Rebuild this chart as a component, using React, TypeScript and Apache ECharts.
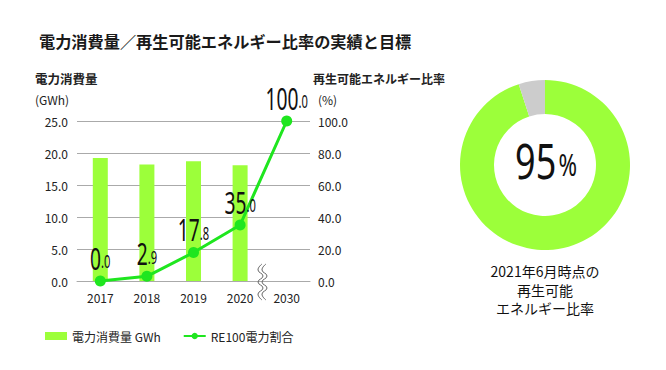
import React, { useEffect, useRef } from "react";
import * as echarts from "echarts";

const categories = ["2017", "2018", "2019", "2020", "2030"];
const consumption = [19.2, 18.2, 18.7, 18.1, null];
const re100 = [0.0, 2.9, 17.8, 35.0, 100.0];
const leftTicks = { min: 0, max: 25, interval: 5 };
const rightTicks = { min: 0, max: 100, interval: 20 };
const donutValues = [95, 5];
const donutLabel = "95";

const BAR = "#9cff3a";
const LINE = "#1fe61f";
const JP = '"Noto Sans CJK JP", "Noto Sans", sans-serif';
const NUM = '"Noto Sans", "Noto Sans CJK JP", sans-serif';

export default function App() {
  const ref = useRef<HTMLDivElement>(null);
  useEffect(() => {
    document.body.style.margin = "0";
    const chart = echarts.init(ref.current!, null, { renderer: "svg" });
    const option: any = {
      animation: false,
      backgroundColor: "#ffffff",
      textStyle: { fontFamily: JP },
      title: {
        text: "電力消費量／再生可能エネルギー比率の実績と目標",
        left: 34,
        top: 28,
        textStyle: { fontSize: 16.2, fontWeight: "bold", color: "#1a1a1a", fontFamily: JP },
      },
      grid: { left: 77, right: 356, top: 121, bottom: 89 },
      legend: {
        left: 40,
        top: 325,
        itemGap: 22,
        itemWidth: 22,
        itemHeight: 8,
        textStyle: { fontSize: 12, color: "#222", fontFamily: JP },
        data: [
          { name: "電力消費量 GWh", icon: "rect" },
          { name: "RE100電力割合" },
        ],
      },
      xAxis: {
        type: "category",
        data: categories,
        axisLine: { show: true, lineStyle: { color: "#aaaaaa", width: 1 } },
        axisTick: { show: false },
        axisLabel: { color: "#222", fontSize: 12, margin: 10, fontFamily: JP },
      },
      yAxis: [
        {
          type: "value",
          ...leftTicks,
          axisLine: { show: false },
          axisTick: { show: false },
          splitLine: { lineStyle: { color: "#aaaaaa", width: 1 } },
          axisLabel: { color: "#222", fontSize: 12, margin: 9, formatter: (v: number) => v.toFixed(1), fontFamily: JP },
        },
        {
          type: "value",
          ...rightTicks,
          axisLine: { show: false },
          axisTick: { show: false },
          splitLine: { show: false },
          axisLabel: { color: "#222", fontSize: 12, margin: 8, formatter: (v: number) => v.toFixed(1), fontFamily: JP },
        },
      ],
      series: [
        {
          name: "電力消費量 GWh",
          type: "bar",
          data: consumption.map((v) => (v == null ? "-" : v)),
          barWidth: 15,
          itemStyle: { color: BAR },
          yAxisIndex: 0,
        },
        {
          name: "RE100電力割合",
          type: "line",
          yAxisIndex: 1,
          data: re100,
          symbol: "circle",
          symbolSize: 11,
          itemStyle: { color: LINE },
          lineStyle: { color: LINE, width: 3 },
          z: 5,
        },
        {
          type: "custom",
          coordinateSystem: "cartesian2d",
          xAxisIndex: 0,
          yAxisIndex: 1,
          silent: true,
          z: 6,
          data: re100.map((v, i) => [i, v]),
          encode: { x: 0, y: 1 },
          renderItem: (params: any, api: any) => {
            const idx = api.value(0);
            const v = api.value(1);
            const pt = api.coord([idx, v]);
            const s = Number(v).toFixed(1).split(".");
            return {
              type: "text",
              x: pt[0],
              y: pt[1] - 8,
              scaleX: 0.62,
              style: {
                text: `{a|${s[0]}}{b|.${s[1]}}`,
                align: "center",
                verticalAlign: "bottom",
                rich: {
                  a: { fontSize: 31, fontFamily: NUM, fill: "#111", verticalAlign: "bottom", lineHeight: 34 },
                  b: { fontSize: 18, fontFamily: NUM, fill: "#111", verticalAlign: "bottom", lineHeight: 34, padding: [0, 0, 3, 0] },
                },
              },
            };
          },
        },
        {
          type: "pie",
          radius: [51, 85],
          center: [545, 165],
          startAngle: 90,
          silent: true,
          label: { show: false },
          labelLine: { show: false },
          data: [
            { value: donutValues[0], name: "re", itemStyle: { color: BAR } },
            { value: donutValues[1], name: "other", itemStyle: { color: "#cccccc" } },
          ],
        },
      ],
      graphic: [
        { type: "text", left: 35, top: 72, style: { text: "電力消費量", fontSize: 12.5, fontWeight: "bold", fill: "#222", fontFamily: JP } },
        { type: "text", left: 35, top: 93, style: { text: "(GWh)", fontSize: 12, fill: "#222", fontFamily: JP } },
        { type: "text", left: 313, top: 72, style: { text: "再生可能エネルギー比率", fontSize: 12, fontWeight: "bold", fill: "#222", fontFamily: JP } },
        { type: "text", left: 318, top: 93, style: { text: "(%)", fontSize: 12, fill: "#222", fontFamily: JP } },
        {
          type: "text",
          x: 546,
          y: 184,
          scaleX: 0.72,
          style: {
            text: `{a|${donutLabel}}{b|%}`,
            align: "center",
            verticalAlign: "bottom",
            rich: {
              a: { fontSize: 50, fontFamily: NUM, fill: "#111", verticalAlign: "bottom", lineHeight: 54 },
              b: { fontSize: 31, fontFamily: NUM, fill: "#111", verticalAlign: "bottom", lineHeight: 54, padding: [0, 0, 5, 3] },
            },
          },
        },
        {
          type: "text",
          x: 545,
          y: 262,
          style: {
            text: "2021年6月時点の\n再生可能\nエネルギー比率",
            align: "center",
            fontSize: 14,
            lineHeight: 18.5,
            fill: "#111",
            fontFamily: JP,
          },
        },
        {
          type: "polyline",
          shape: { points: [[262, 264], [258, 270], [263, 276], [258, 282], [263, 288], [258, 294], [262, 300]], smooth: 0.5 },
          style: { stroke: "#666", lineWidth: 1, fill: null },
          z: 10,
        },
        {
          type: "polyline",
          shape: { points: [[266, 264], [262, 270], [267, 276], [262, 282], [267, 288], [262, 294], [266, 300]], smooth: 0.5 },
          style: { stroke: "#666", lineWidth: 1, fill: null },
          z: 10,
        },
      ],
    };
    chart.setOption(option);
    return () => chart.dispose();
  }, []);
  return <div ref={ref} style={{ width: 666, height: 370 }} />;
}
